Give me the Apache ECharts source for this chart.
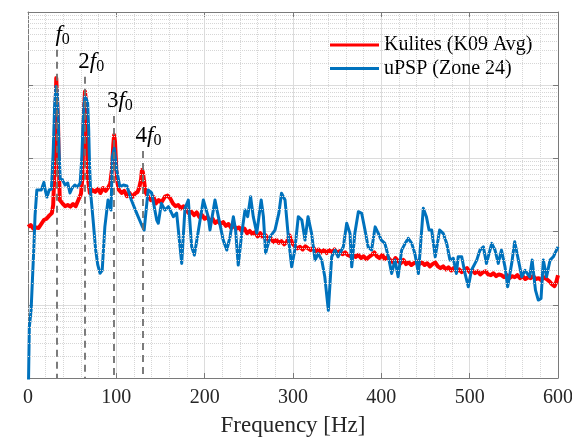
<!DOCTYPE html>
<html><head><meta charset="utf-8">
<script src="https://cdn.jsdelivr.net/npm/echarts@6/dist/echarts.min.js"></script>
<style>html,body{margin:0;padding:0;background:#fff}#c{width:572px;height:438px}</style>
</head><body><div id="c"></div>
<script>
// ---- Data ----
const kulitesFreq = [0,3,6,9,12,15,18,21,24,27,28.5,30,31,32,33,34,35,36,39,42,45,48,51,54,57,60,61.5,62.5,63.5,64.5,65.5,66.5,68,70,73,76,79,82,85,88,91,93,95,96.5,97.5,98.5,100,101.5,103,106,109,112,115,118,121,124,126,128,129,130,131.5,133,136,139,142,145,148,151,155,158,161,164,167,170,173,176,179,182,185,188,191,194,197,
200,203,206,209,212,215,218,221,224,227,230,233,236,239,242,245,248,251,254,257,260,263,266,269,272,275,278,281,284,287,290,293,296,299,302,305,308,311,314,317,320,323,326,329,332,335,338,341,344,347,350,353,356,359,362,365,368,371,374,377,380,383,386,389,392,395,398,401,404,407,410,413,416,419,422,425,428,431,434,437,440,443,446,449,452,455,458,461,464,467,470,473,476,479,482,485,488,491,494,497,500,503,506,509,512,515,518,521,524,527,530,533,536,539,542,545,548,551,554,557,560,563,566,569,572,575,578,581,584,587,590,593,596,598,600];
const kulitesPSD = [116,123,110,114,112,127,144,150,165,179,230,700,3500,12500,12000,3000,700,270,243,222,231,219,238,222,270,330,520,1500,5000,8200,6000,1800,510,337,370,348,385,337,394,360,405,450,700,1500,2095,1700,700,450,370,337,360,305,337,297,330,348,400,520,695,650,480,348,300,270,297,243,270,250,300,310,285,243,222,231,208,222,197,179,187,168,183,158,168,
150,158,140,150,131,140,127,135,120,127,112,120,110,114,102,110,95,102,93,98,86,95,84,89,77,81,72,77,70,74,67,72,89,70,63,59,62,57,63,59,56,60,54,57,52,56,51,56,52,57,51,54,49,52,48,46,49,45,48,43.5,46,42,45,48,52,46,43.5,48,42,45,41,38,43.5,39.5,37,41,36,38,35,37,39.5,36,38,35,37,33.5,36,38,33.5,31.7,33.5,30.5,32.5,29.5,31.7,28.7,30.5,27.9,29.5,31.7,27.9,29.5,27,28.7,26,27.9,28.7,26,25.4,27,24.6,26,25.4,23.8,25.4,23.1,24.6,23.8,25.4,23.1,24.6,22.5,23.8,23.1,24.6,22.5,23.1,21.7,23.8,22.5,21,19.2,18,20.4,25.4];

const upspFreq = [0,1.5,3.5,5,6.5,8,10,12,15,18,20,21.5,24,26.5,28.5,30.2,31.7,33,34.2,35.2,36.5,39,42,45,47.5,50,53,56,59,61,62.3,63.5,64.5,66,67.5,68.7,69.7,71,73.7,76.6,79,81.5,84,87,90.6,94,95.5,97.7,100.4,104,108,112,117,123,128.7,131.5,136,140,145.7,147.5,151,155,159,164.5,168.3,174,177.7,181.5,185.3,188.3,193,198.5,204,206,211.7,215.5,221,225,228.7,232.5,235,238,242,245.7,248.7,252,255,259,264,266.5,269,274,279.6,284,287,291,294.7,298.5,302,306,310,313.6,317,321,325,328.6,332.5,336,340,343.8,347.6,351,357,360.8,364.5,366.5,370,374,377.8,381.5,385,389,393,396.6,400,404,408,411.7,415.5,419,423,427,430.5,434.4,438,442,447.5,451,454,457,461,466,470,474,477.7,481.5,485,487,491,494.7,498.5,502,508,511.7,515.5,519,523,525,528.7,532.4,536,540,543,547.6,551,554.4,559,562.7,568,570.7,574.5,577.7,580.8,583.4,587,591,594.7,600];
const upspPSD = [0.3,5,8.4,21.7,56,168,370,394,370,470,348,297,370,380,1200,5500,9600,8500,3500,1200,520,510,433,461,337,394,433,405,461,1057,3000,5500,7000,6500,5740,2500,800,330,144,56,35,27,29.6,116,270,197,1057,1377,695,411,433,420,270,179,123,105,370,337,144,130,243,197,219,160,179,36.8,208,270,62,47.7,105,270,160,105,270,160,76.6,56,85,160,105,34.9,95.5,197,160,300,160,95.5,270,160,50.9,85,105,179,334,270,85,33,56,160,144,76.6,160,94.6,40.8,50,40.8,24.1,8.4,45.3,55.9,45.3,62,130,94.6,33,94.6,187,177,105,62,56,116,94.6,76.6,69,45.3,26.8,40.8,24.1,55.9,69,80.8,69,50,26.8,208,160,105,105,45.3,105,94.6,69,40.8,43,26.8,45.3,45.3,26.8,17.6,29.6,40.8,55.9,62,36.8,55.9,69,55.9,36.8,55.9,33,17.6,36.8,72.6,45.3,24.1,29.6,24.1,40.8,15.9,11.6,12.2,40.8,24.1,40.8,45.3,62];

const seriesNames = ['Kulites (K09 Avg)', 'uPSP (Zone 24)'];
const xTickValues = [0,100,200,300,400,500,600];
const f0 = 32.4;
const harmonicOrders = [1,2,3,4];
const harmonicLabels = ['{i|f}{s|0}','{n|2}{i|f}{s|0}','{n|3}{i|f}{s|0}','{n|4}{i|f}{s|0}'];
const harmonicLineTop = [30500, 13000, 3800, 1265];

// ---- Chart ----
const serif = '"Liberation Serif","DejaVu Serif",serif';
const axisGray = '#7a7a7a';
const minorY = [];
for (let k = 0; k < 5; k++) for (let m = 2; m < 10; m++) minorY.push(m * Math.pow(10, k));

const chart = echarts.init(document.getElementById('c'), null, {renderer: 'canvas'});
const option = {
  animation: false,
  backgroundColor: '#fff',
  grid: {left: 28, right: 14, top: 12, bottom: 60, containLabel: false, outerBoundsMode: 'none'},
  xAxis: [{
    type: 'value', min: xTickValues[0], max: xTickValues[xTickValues.length-1], interval: 100, position: 'bottom',
    axisLine: {show: true, onZero: false, lineStyle: {color: axisGray, width: 1}},
    axisTick: {show: true, inside: true, length: 5, lineStyle: {color: axisGray}},
    axisLabel: {show: true, margin: 10, fontFamily: serif, fontSize: 20, color: '#262626'},
    splitLine: {show: true, lineStyle: {color: '#dcdcdc', width: 1}},
    minorTick: {show: false, splitNumber: 5},
    minorSplitLine: {show: true, lineStyle: {color: '#d6d6d6', type: 'dotted', width: 1}},
    name: 'Frequency [Hz]', nameLocation: 'middle', nameGap: 36,
    nameTextStyle: {fontFamily: serif, fontSize: 23, color: '#262626'}
  }, {
    type: 'value', min: 0, max: 600, interval: 100, position: 'top',
    axisLine: {show: true, onZero: false, lineStyle: {color: axisGray, width: 1}},
    axisTick: {show: true, inside: true, length: 5, lineStyle: {color: axisGray}},
    axisLabel: {show: false}, splitLine: {show: false}
  }],
  yAxis: [{
    type: 'log', logBase: 10, min: 1, max: 1e5, position: 'left',
    axisLine: {show: true, onZero: false, lineStyle: {color: axisGray, width: 1}},
    axisTick: {show: true, inside: true, length: 5, lineStyle: {color: axisGray}},
    axisLabel: {show: false},
    splitLine: {show: true, lineStyle: {color: '#dcdcdc', width: 1}}
  }, {
    type: 'log', logBase: 10, min: 1, max: 1e5, position: 'right',
    axisLine: {show: true, onZero: false, lineStyle: {color: axisGray, width: 1}},
    axisTick: {show: true, inside: true, length: 5, lineStyle: {color: axisGray}},
    axisLabel: {show: false}, splitLine: {show: false}
  }],
  legend: {
    orient: 'vertical', left: 325, top: 30, itemWidth: 49, itemHeight: 3, itemGap: 3.5, icon: 'rect',
    textStyle: {fontFamily: serif, fontSize: 20, color: '#000'},
    data: seriesNames
  },
  series: [
    {
      type: 'line', data: [], silent: true, z: 1,
      markLine: {
        silent: true, symbol: ['none', 'none'], label: {show: false}, animation: false,
        lineStyle: {color: '#d6d6d6', type: 'dotted', width: 1},
        data: minorY.map(v => ({yAxis: v}))
      }
    },
    {
      type: 'line', data: [], silent: true, z: 2,
      markLine: {
        silent: true, symbol: ['none', 'none'], label: {show: false}, animation: false,
        lineStyle: {color: '#6e6e6e', type: [7, 5], width: 1.8},
        data: harmonicOrders.map((n, i) => [{coord: [n * f0, harmonicLineTop[i]]}, {coord: [n * f0, 1]}])
      },
      markPoint: {
        silent: true, symbol: 'circle', symbolSize: 0, animation: false,
        label: {
          show: true, position: 'top', distance: 2, offset: [6, 0], color: '#000',
          rich: {
            i: {fontFamily: serif, fontStyle: 'italic', fontSize: 23, color: '#000'},
            n: {fontFamily: serif, fontSize: 23, color: '#000'},
            s: {fontFamily: serif, fontSize: 16, color: '#000', padding: [10, 0, 0, 0]}
          }
        },
        data: harmonicOrders.map((n, i) => ({coord: [n * f0, harmonicLineTop[i]], label: {formatter: harmonicLabels[i]}}))
      }
    },
    {
      name: seriesNames[0], type: 'line', z: 3, clip: true,
      data: kulitesFreq.map((f, i) => [f, kulitesPSD[i]]),
      showSymbol: false, symbol: 'none',
      lineStyle: {color: '#ff0000', width: 4, join: 'round'}, itemStyle: {color: '#ff0000'}
    },
    {
      name: seriesNames[1], type: 'line', z: 4, clip: true,
      data: upspFreq.map((f, i) => [f, upspPSD[i]]),
      showSymbol: false, symbol: 'none',
      lineStyle: {color: '#0072BD', width: 3, join: 'round'}, itemStyle: {color: '#0072BD'}
    }
  ]
};
chart.setOption(option);
</script></body></html>
